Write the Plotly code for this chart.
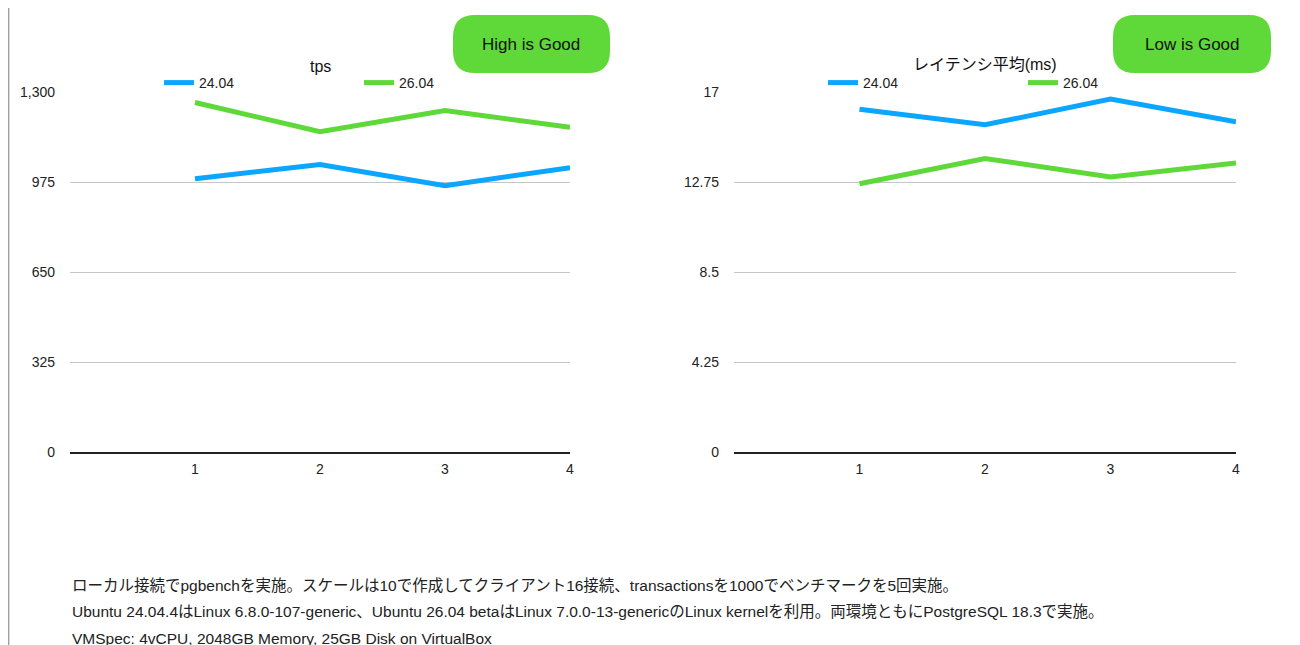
import plotly.graph_objs as go
from plotly.subplots import make_subplots

# pgbench results, 16 clients, 4 runs
runs = [1, 2, 3, 4]
tps_2404 = [987, 1038, 962, 1027]
tps_2604 = [1262, 1157, 1233, 1173]
lat_2404 = [16.19, 15.45, 16.67, 15.59]
lat_2604 = [12.67, 13.86, 12.99, 13.65]

tps_ticks = [0, 325, 650, 975, 1300]
lat_ticks = [0, 4.25, 8.5, 12.75, 17]

notes = [
    'ローカル接続でpgbenchを実施。スケールは10で作成してクライアント16接続、transactionsを1000でベンチマークを5回実施。',
    'Ubuntu 24.04.4はLinux 6.8.0-107-generic、Ubuntu 26.04 betaはLinux 7.0.0-13-genericのLinux kernelを利用。両環境ともにPostgreSQL 18.3で実施。',
    'VMSpec: 4vCPU, 2048GB Memory, 25GB Disk on VirtualBox',
]

W, H = 1300, 645
OFF = 8  # the page body margin pushes the plot 8px right/down
BLUE = '#0ba6ff'
GREEN = '#5fd83a'
FONT = 'Liberation Sans, Noto Sans CJK JP, sans-serif'


def px(x):
    return (x - OFF) / W


def py(y):
    return 1 - (y - OFF) / H


def pill(x0, y0, x1, y1, r):
    return (f'M {px(x0 + r)},{py(y0)} L {px(x1 - r)},{py(y0)} '
            f'Q {px(x1)},{py(y0)} {px(x1)},{py(y0 + r)} L {px(x1)},{py(y1 - r)} '
            f'Q {px(x1)},{py(y1)} {px(x1 - r)},{py(y1)} L {px(x0 + r)},{py(y1)} '
            f'Q {px(x0)},{py(y1)} {px(x0)},{py(y1 - r)} L {px(x0)},{py(y0 + r)} '
            f'Q {px(x0)},{py(y0)} {px(x0 + r)},{py(y0)} Z')


fig = make_subplots(rows=1, cols=2)

fig.add_trace(go.Scatter(name='24.04', x=runs, y=tps_2404, mode='lines',
                         line={'color': BLUE, 'width': 5}, legend='legend'), row=1, col=1)
fig.add_trace(go.Scatter(name='26.04', x=runs, y=tps_2604, mode='lines',
                         line={'color': GREEN, 'width': 5}, legend='legend'), row=1, col=1)
fig.add_trace(go.Scatter(name='24.04', x=runs, y=lat_2404, mode='lines',
                         line={'color': BLUE, 'width': 5}, legend='legend2'), row=1, col=2)
fig.add_trace(go.Scatter(name='26.04', x=runs, y=lat_2604, mode='lines',
                         line={'color': GREEN, 'width': 5}, legend='legend2'), row=1, col=2)

xcommon = dict(range=[0, 4], tickvals=runs, showgrid=False, zeroline=False,
               showline=True, linecolor='#222', linewidth=1.5, automargin=False,
               tickfont={'size': 14, 'color': '#222'}, ticklabelstandoff=3)
fig.update_xaxes(domain=[px(70), px(570)], **xcommon, row=1, col=1)
fig.update_xaxes(domain=[px(734), px(1236)], **xcommon, row=1, col=2)

ycommon = dict(showgrid=True, gridcolor='#c6c6c6', gridwidth=1, zeroline=False,
               automargin=False, domain=[py(452), py(92)],
               tickfont={'size': 14, 'color': '#222'}, ticklabelstandoff=14)
fig.update_yaxes(range=[0, 1300], tickvals=tps_ticks, tickformat=',', **ycommon, row=1, col=1)
fig.update_yaxes(range=[0, 17], tickvals=lat_ticks, **ycommon, row=1, col=2)

legend_style = dict(orientation='h', yanchor='middle', xanchor='left', itemwidth=30,
                    entrywidth=155, bgcolor='rgba(0,0,0,0)',
                    font={'size': 14, 'color': '#222'})
fig.update_layout(
    legend=dict(x=px(159), y=py(83), **legend_style),
    legend2=dict(x=px(823), y=py(83), **legend_style),
)

annotations = [
    dict(text='tps', x=px(320), y=py(66), font={'size': 16, 'color': '#111'}),
    dict(text='レイテンシ平均(ms)', x=px(985), y=py(64), font={'size': 16, 'color': '#111'}),
    dict(text='High is Good', x=px(531), y=py(44), font={'size': 17, 'color': '#111'}),
    dict(text='Low is Good', x=px(1192), y=py(44), font={'size': 17, 'color': '#111'}),
]
for i, line in enumerate(notes):
    annotations.append(dict(text=line, x=px(70), y=py(585 + 26.5 * i), xanchor='left',
                            font={'size': 15.5, 'color': '#222'}))
for a in annotations:
    a.update(xref='paper', yref='paper', showarrow=False)
    a.setdefault('xanchor', 'center')
    a['yanchor'] = 'middle'

shapes = [
    dict(type='path', path=pill(453, 15, 610, 73, 22), fillcolor=GREEN, line={'width': 0}),
    dict(type='path', path=pill(1113, 15, 1271, 73, 22), fillcolor=GREEN, line={'width': 0}),
    dict(type='line', x0=0.0005, x1=0.0005, y0=0, y1=1, line={'color': '#a0a0a0', 'width': 1.5}),
]
for s in shapes:
    s.update(xref='paper', yref='paper', layer='below')

fig.update_layout(
    width=W, height=H,
    margin=dict(l=0, r=0, t=0, b=0),
    paper_bgcolor='white', plot_bgcolor='white',
    font={'family': FONT, 'color': '#222'},
    annotations=annotations,
    shapes=shapes,
    hovermode='closest',
)

fig.write_html('out.html')
